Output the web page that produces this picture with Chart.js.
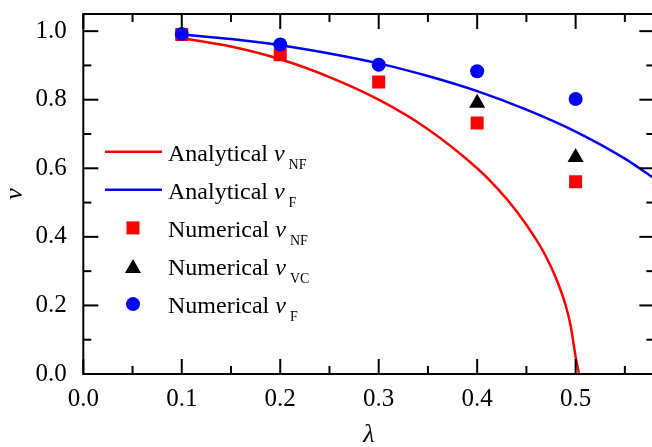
<!DOCTYPE html>
<html><head><meta charset="utf-8">
<script src="https://cdn.jsdelivr.net/npm/chart.js@4/dist/chart.umd.min.js"></script>
<style>
html,body{margin:0;padding:0;background:#fff;overflow:hidden;width:652px;height:447px}
#wrap{position:absolute;left:0;top:0;width:656px;height:447px}
</style></head>
<body><div id="wrap"><canvas id="c" width="656" height="447"></canvas></div>
<script>
// ---- data ----
const lambdaNum = [0.1, 0.2, 0.3, 0.4, 0.5];
const numericalNF = [0.990, 0.931, 0.852, 0.732, 0.561];
const lambdaVC = [0.4, 0.5];
const numericalVC = [0.790, 0.632];
const numericalF = [0.992, 0.961, 0.902, 0.883, 0.802];
const lambdaAnaNF = [0.1, 0.15, 0.2, 0.25, 0.3, 0.35, 0.4, 0.42, 0.44, 0.46, 0.47, 0.48, 0.49, 0.495, 0.5, 0.5035];
const analyticalNF = [0.980, 0.955, 0.918, 0.866, 0.800, 0.714, 0.600, 0.543, 0.475, 0.392, 0.342, 0.280, 0.199, 0.140, 0.050, 0.0];
const lambdaAnaF = [0.1, 0.15, 0.2, 0.25, 0.3, 0.35, 0.4, 0.45, 0.5, 0.55, 0.58];
const analyticalF = [0.990, 0.977, 0.959, 0.935, 0.906, 0.869, 0.825, 0.771, 0.707, 0.628, 0.570];
const xTickValues = [0, 0.1, 0.2, 0.3, 0.4, 0.5];
const xMinorValues = [0.05, 0.15, 0.25, 0.35, 0.45, 0.55];
const yTickValues = [0, 0.2, 0.4, 0.6, 0.8, 1.0];
const yMinorValues = [0.1, 0.3, 0.5, 0.7, 0.9];
const legendMain = ['Analytical ', 'Analytical ', 'Numerical ', 'Numerical ', 'Numerical '];
const legendSub = ['NF', 'F', 'NF', 'VC', 'F'];

const FONT = '"Liberation Serif", "Times New Roman", serif';
const pts = (xs, ys) => xs.map((x, i) => ({x, y: ys[i]}));

const RED = '#ff0000', BLUE = '#0000ff', BLACK = '#000000';

const datasets = [
  {label: 'Numerical vF', data: pts(lambdaNum, numericalF), pointStyle: 'circle', pointRadius: 7,
   backgroundColor: BLUE, borderColor: BLUE, borderWidth: 0, showLine: false, _leg: 4, _kind: 'circle'},
  {label: 'Numerical vVC', data: pts(lambdaVC, numericalVC), pointStyle: 'triangle', pointRadius: 9.3,
   backgroundColor: BLACK, borderColor: BLACK, borderWidth: 0, showLine: false, _leg: 3, _kind: 'triangle'},
  {label: 'Numerical vNF', data: pts(lambdaNum, numericalNF), pointStyle: 'rect', pointRadius: 9.2,
   backgroundColor: RED, borderColor: RED, borderWidth: 0, showLine: false, _leg: 2, _kind: 'rect'},
  {label: 'Analytical vF', data: pts(lambdaAnaF, analyticalF), showLine: true, pointRadius: 0,
   borderColor: BLUE, backgroundColor: BLUE, borderWidth: 2.5, cubicInterpolationMode: 'monotone', _leg: 1, _kind: 'line'},
  {label: 'Analytical vNF', data: pts(lambdaAnaNF, analyticalNF), showLine: true, pointRadius: 0,
   borderColor: RED, backgroundColor: RED, borderWidth: 2.5, cubicInterpolationMode: 'monotone', _leg: 0, _kind: 'line'}
];

const framePlugin = {
  id: 'frame',
  afterDatasetsDraw(chart) {
    const {ctx, chartArea: a, scales: {x, y}} = chart;
    ctx.save();
    ctx.strokeStyle = '#000';
    ctx.lineWidth = 2;
    ctx.strokeRect(a.left, a.top, a.right - a.left, a.bottom - a.top);
    const seg = (x1, y1, x2, y2) => { ctx.beginPath(); ctx.moveTo(x1, y1); ctx.lineTo(x2, y2); ctx.stroke(); };
    const MAJ = 15, MIN = 8;
    xTickValues.forEach(v => { const p = x.getPixelForValue(v); seg(p, a.bottom, p, a.bottom - MAJ); seg(p, a.top, p, a.top + MAJ); });
    xMinorValues.forEach(v => { const p = x.getPixelForValue(v); seg(p, a.bottom, p, a.bottom - MIN); seg(p, a.top, p, a.top + MIN); });
    yTickValues.forEach(v => { const p = y.getPixelForValue(v); seg(a.left, p, a.left + MAJ, p); seg(a.right, p, a.right - MAJ, p); });
    yMinorValues.forEach(v => { const p = y.getPixelForValue(v); seg(a.left, p, a.left + MIN, p); seg(a.right, p, a.right - MIN, p); });
    ctx.restore();
  }
};

const legendPlugin = {
  id: 'customLegend',
  afterDraw(chart) {
    const ctx = chart.ctx;
    const ds = chart.data.datasets.slice().sort((a, b) => a._leg - b._leg);
    const x0 = 105, x1 = 162, mx = 133, tx = 168, top = 151.7, step = 38.1;
    ctx.save();
    ds.forEach((d, i) => {
      const cy = top + step * i;
      ctx.fillStyle = d.backgroundColor;
      ctx.strokeStyle = d.borderColor;
      if (d._kind === 'line') {
        ctx.lineWidth = d.borderWidth;
        ctx.beginPath(); ctx.moveTo(x0, cy); ctx.lineTo(x1, cy); ctx.stroke();
      } else if (d._kind === 'rect') {
        const s = Math.SQRT1_2 * d.pointRadius;
        ctx.fillRect(mx - s, cy - s, 2 * s, 2 * s);
      } else if (d._kind === 'circle') {
        ctx.beginPath(); ctx.arc(mx, cy, d.pointRadius, 0, Math.PI * 2); ctx.fill();
      } else if (d._kind === 'triangle') {
        const r = d.pointRadius, c = cy + r / 4;
        ctx.beginPath();
        ctx.moveTo(mx, c - r);
        ctx.lineTo(mx + r * Math.sqrt(3) / 2, c + r / 2);
        ctx.lineTo(mx - r * Math.sqrt(3) / 2, c + r / 2);
        ctx.closePath(); ctx.fill();
      }
      const base = cy + 9;
      ctx.fillStyle = '#000';
      ctx.textBaseline = 'alphabetic';
      ctx.textAlign = 'left';
      ctx.font = '24px ' + FONT;
      const main = legendMain[d._leg];
      ctx.fillText(main, tx, base);
      let cx = tx + ctx.measureText(main).width;
      ctx.font = 'italic 24px ' + FONT;
      ctx.fillText('v', cx, base);
      cx += ctx.measureText('v').width + 4;
      ctx.font = '14px ' + FONT;
      ctx.fillText(legendSub[d._leg], cx, base + 8);
    });
    ctx.restore();
  }
};

const zeroPad = s => { s.paddingTop = 0; s.paddingBottom = 0; s.paddingLeft = 0; s.paddingRight = 0; };

new Chart(document.getElementById('c'), {
  type: 'scatter',
  data: {datasets},
  options: {
    responsive: false,
    animation: false,
    devicePixelRatio: 1,
    layout: {autoPadding: false, padding: {left: 0, top: 14, right: 1.6, bottom: 0}},
    plugins: {legend: {display: false}, tooltip: {enabled: false}},
    scales: {
      x: {
        type: 'linear', min: 0, max: 0.58,
        afterBuildTicks: s => { s.ticks = xTickValues.map(v => ({value: v})); },
        afterFit: s => { s.height = 73; zeroPad(s); },
        grid: {display: false, drawTicks: false},
        border: {display: false},
        ticks: {color: '#000', font: {family: FONT, size: 25}, padding: 10, maxRotation: 0, autoSkip: false,
                callback: v => Number(v).toFixed(1)},
        title: {display: true, text: 'λ', color: '#000', font: {family: FONT, size: 26, style: 'italic'}, padding: {top: 0, bottom: -4}}
      },
      y: {
        type: 'linear', min: 0, max: 1.05,
        afterBuildTicks: s => { s.ticks = yTickValues.map(v => ({value: v})); },
        afterFit: s => { s.width = 83.3; zeroPad(s); },
        grid: {display: false, drawTicks: false},
        border: {display: false},
        ticks: {color: '#000', font: {family: FONT, size: 25}, padding: 16.5, autoSkip: false,
                callback: v => Number(v).toFixed(1)},
        title: {display: true, text: 'v', color: '#000', font: {family: FONT, size: 26, style: 'italic'}, padding: {top: 0, bottom: 0}}
      }
    }
  },
  plugins: [framePlugin, legendPlugin]
});
</script>
</body></html>
